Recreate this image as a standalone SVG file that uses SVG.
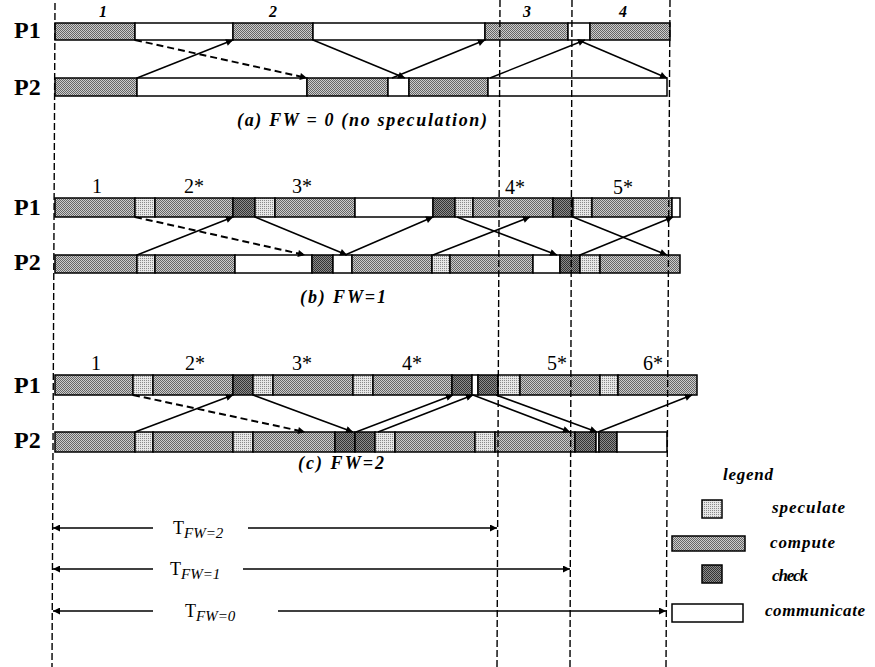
<svg xmlns="http://www.w3.org/2000/svg" width="875" height="667" viewBox="0 0 875 667">
<defs>
<pattern id="pc" width="2" height="2" patternUnits="userSpaceOnUse"><rect width="2" height="2" fill="#cccccc"/><rect width="1" height="1" fill="#666"/><rect x="1" y="1" width="1" height="1" fill="#666"/></pattern>
<pattern id="ps" width="2" height="2" patternUnits="userSpaceOnUse"><rect width="2" height="2" fill="#e6e6e6"/><rect width="1" height="1" fill="#8a8a8a"/></pattern>
<pattern id="pk" width="2" height="2" patternUnits="userSpaceOnUse"><rect width="2" height="2" fill="#8c8c8c"/><rect width="1" height="1" fill="#333"/><rect x="1" y="1" width="1" height="1" fill="#333"/></pattern>
<marker id="ah" viewBox="0 0 10 10" refX="10" refY="5" markerWidth="9" markerHeight="7" markerUnits="userSpaceOnUse" orient="auto"><path d="M0,0 L10,5 L0,10 z" fill="#000"/></marker>
</defs>
<style>
rect.c{fill:url(#pc);stroke:#000;stroke-width:1.5}
rect.s{fill:url(#ps);stroke:#000;stroke-width:1.5}
rect.k{fill:url(#pk);stroke:#000;stroke-width:1.5}
rect.m{fill:#fff;stroke:#000;stroke-width:1.5}
.vl{stroke:#000;stroke-width:1.4;stroke-dasharray:7 3;fill:none}
.ar{stroke:#000;stroke-width:1.5;fill:none;marker-end:url(#ah)}
.da{stroke:#000;stroke-width:2;stroke-dasharray:7 4;fill:none;marker-end:url(#ah)}
.pl{font-family:"Liberation Serif",serif;font-weight:bold;font-size:24px}
.na{font-family:"Liberation Serif",serif;font-weight:bold;font-style:italic;font-size:16px;text-anchor:middle}
.nb{font-family:"Liberation Serif",serif;font-size:20px;text-anchor:middle}
.cap{font-family:"Liberation Serif",serif;font-weight:bold;font-style:italic;font-size:18px}
.lg{font-family:"Liberation Serif",serif;font-style:italic;font-size:17px;font-weight:bold}
.tt{font-family:"Liberation Serif",serif;font-size:18px}
.sub{font-style:italic;font-size:15px}
</style>

<g id="panel-a">
<g id="a-P1">
<text class="pl" x="14" y="38">P1</text>
<rect class="c" x="55" y="23" width="80" height="17"/>
<rect class="m" x="135" y="23" width="98" height="17"/>
<rect class="c" x="233" y="23" width="80" height="17"/>
<rect class="m" x="313" y="23" width="172" height="17"/>
<rect class="c" x="485" y="23" width="83" height="17"/>
<rect class="m" x="568" y="23" width="22" height="17"/>
<rect class="c" x="590" y="23" width="80" height="17"/>
</g>
<g id="a-P2">
<text class="pl" x="14" y="95">P2</text>
<rect class="c" x="55" y="78" width="82" height="18"/>
<rect class="m" x="137" y="78" width="170" height="18"/>
<rect class="c" x="307" y="78" width="81" height="18"/>
<rect class="m" x="388" y="78" width="21" height="18"/>
<rect class="c" x="409" y="78" width="79" height="18"/>
<rect class="m" x="488" y="78" width="179" height="18"/>
</g>
<g id="a-labels">
<text class="na" x="103" y="17">1</text>
<text class="na" x="273" y="17">2</text>
<text class="na" x="527" y="17">3</text>
<text class="na" x="623" y="17">4</text>
<text class="cap" x="237" y="126" textLength="250" lengthAdjust="spacing">(a) FW = 0 (no speculation)</text>
</g>
</g>

<g id="panel-b">
<g id="b-P1">
<text class="pl" x="14" y="215">P1</text>
<rect class="c" x="55" y="198" width="80" height="19"/>
<rect class="s" x="135" y="198" width="20" height="19"/>
<rect class="c" x="155" y="198" width="78" height="19"/>
<rect class="k" x="233" y="198" width="22" height="19"/>
<rect class="s" x="255" y="198" width="20" height="19"/>
<rect class="c" x="275" y="198" width="80" height="19"/>
<rect class="m" x="355" y="198" width="78" height="19"/>
<rect class="k" x="433" y="198" width="22" height="19"/>
<rect class="s" x="455" y="198" width="18" height="19"/>
<rect class="c" x="473" y="198" width="80" height="19"/>
<rect class="k" x="553" y="198" width="20" height="19"/>
<rect class="s" x="573" y="198" width="19" height="19"/>
<rect class="c" x="592" y="198" width="80" height="19"/>
<rect class="m" x="672" y="198" width="8" height="19"/>
</g>
<g id="b-P2">
<text class="pl" x="14" y="270">P2</text>
<rect class="c" x="55" y="255" width="82" height="18"/>
<rect class="s" x="137" y="255" width="18" height="18"/>
<rect class="c" x="155" y="255" width="80" height="18"/>
<rect class="m" x="235" y="255" width="77" height="18"/>
<rect class="k" x="312" y="255" width="21" height="18"/>
<rect class="m" x="333" y="255" width="19" height="18"/>
<rect class="c" x="352" y="255" width="80" height="18"/>
<rect class="s" x="432" y="255" width="18" height="18"/>
<rect class="c" x="450" y="255" width="83" height="18"/>
<rect class="m" x="533" y="255" width="27" height="18"/>
<rect class="k" x="560" y="255" width="20" height="18"/>
<rect class="s" x="580" y="255" width="20" height="18"/>
<rect class="c" x="600" y="255" width="80" height="18"/>
</g>
<g id="b-labels">
<text class="nb" x="97" y="193">1</text>
<text class="nb" x="194" y="193">2*</text>
<text class="nb" x="302" y="193">3*</text>
<text class="nb" x="515" y="194">4*</text>
<text class="nb" x="623" y="194">5*</text>
<text class="cap" x="300" y="303" textLength="86" lengthAdjust="spacing">(b) FW=1</text>
</g>
</g>

<g id="panel-c">
<g id="c-P1">
<text class="pl" x="14" y="393">P1</text>
<rect class="c" x="55" y="375" width="78" height="20"/>
<rect class="s" x="133" y="375" width="20" height="20"/>
<rect class="c" x="153" y="375" width="80" height="20"/>
<rect class="k" x="233" y="375" width="20" height="20"/>
<rect class="s" x="253" y="375" width="20" height="20"/>
<rect class="c" x="273" y="375" width="80" height="20"/>
<rect class="s" x="353" y="375" width="20" height="20"/>
<rect class="c" x="373" y="375" width="79" height="20"/>
<rect class="k" x="452" y="375" width="20" height="20"/>
<rect class="m" x="472" y="375" width="6" height="20"/>
<rect class="k" x="478" y="375" width="20" height="20"/>
<rect class="s" x="498" y="375" width="22" height="20"/>
<rect class="c" x="520" y="375" width="80" height="20"/>
<rect class="s" x="600" y="375" width="18" height="20"/>
<rect class="c" x="618" y="375" width="79" height="20"/>
</g>
<g id="c-P2">
<text class="pl" x="14" y="448">P2</text>
<rect class="c" x="55" y="432" width="80" height="20"/>
<rect class="s" x="135" y="432" width="18" height="20"/>
<rect class="c" x="153" y="432" width="80" height="20"/>
<rect class="s" x="233" y="432" width="20" height="20"/>
<rect class="c" x="253" y="432" width="82" height="20"/>
<rect class="k" x="335" y="432" width="20" height="20"/>
<rect class="k" x="355" y="432" width="20" height="20"/>
<rect class="s" x="375" y="432" width="20" height="20"/>
<rect class="c" x="395" y="432" width="80" height="20"/>
<rect class="s" x="475" y="432" width="20" height="20"/>
<rect class="c" x="495" y="432" width="80" height="20"/>
<rect class="k" x="575" y="432" width="21" height="20"/>
<rect class="m" x="596" y="432" width="3" height="20"/>
<rect class="k" x="599" y="432" width="18" height="20"/>
<rect class="m" x="617" y="432" width="50" height="20"/>
</g>
<g id="c-labels">
<text class="nb" x="96" y="370">1</text>
<text class="nb" x="195" y="370">2*</text>
<text class="nb" x="302" y="370">3*</text>
<text class="nb" x="412" y="370">4*</text>
<text class="nb" x="557" y="370">5*</text>
<text class="nb" x="653" y="370">6*</text>
<text class="cap" x="298" y="469" textLength="86" lengthAdjust="spacing">(c) FW=2</text>
</g>
</g>

<g id="time-lines">
<line class="vl" x1="55" y1="3" x2="52" y2="667"/>
<line class="vl" x1="500" y1="0" x2="497" y2="667"/>
<line class="vl" x1="572" y1="0" x2="570" y2="667"/>
<line class="vl" x1="670" y1="0" x2="666" y2="667"/>
</g>

<g id="connectors">
<line class="da" x1="135" y1="40" x2="307" y2="78"/>
<line class="ar" x1="137" y1="78" x2="233" y2="40"/>
<line class="ar" x1="313" y1="40" x2="405" y2="78"/>
<line class="ar" x1="392" y1="78" x2="485" y2="40"/>
<line class="ar" x1="490" y1="78" x2="585" y2="40"/>
<line class="ar" x1="578" y1="40" x2="667" y2="78"/>

<line class="da" x1="135" y1="217" x2="305" y2="255"/>
<line class="ar" x1="137" y1="255" x2="233" y2="217"/>
<line class="ar" x1="255" y1="217" x2="347" y2="255"/>
<line class="ar" x1="345" y1="255" x2="433" y2="217"/>
<line class="ar" x1="457" y1="217" x2="557" y2="255"/>
<line class="ar" x1="433" y1="255" x2="530" y2="217"/>
<line class="ar" x1="573" y1="217" x2="667" y2="255"/>
<line class="ar" x1="580" y1="255" x2="673" y2="217"/>

<line class="da" x1="133" y1="395" x2="305" y2="432"/>
<line class="ar" x1="135" y1="432" x2="233" y2="395"/>
<line class="ar" x1="253" y1="395" x2="353" y2="432"/>
<line class="ar" x1="356" y1="432" x2="453" y2="395"/>
<line class="ar" x1="378" y1="432" x2="473" y2="395"/>
<line class="ar" x1="473" y1="395" x2="570" y2="432"/>
<line class="ar" x1="496" y1="395" x2="597" y2="432"/>
<line class="ar" x1="598" y1="432" x2="692" y2="395"/>

<line class="ar" x1="153" y1="528" x2="53" y2="528"/>
<line class="ar" x1="248" y1="528" x2="497" y2="528"/>
<line class="ar" x1="153" y1="569" x2="53" y2="569"/>
<line class="ar" x1="243" y1="569" x2="570" y2="569"/>
<line class="ar" x1="153" y1="611" x2="53" y2="611"/>
<line class="ar" x1="278" y1="611" x2="666" y2="611"/>
</g>

<g id="time-labels">
<text class="tt" x="173" y="534">T<tspan class="sub" dy="4">FW=2</tspan></text>
<text class="tt" x="170" y="575">T<tspan class="sub" dy="4">FW=1</tspan></text>
<text class="tt" x="185" y="617">T<tspan class="sub" dy="4">FW=0</tspan></text>
</g>

<g id="legend">
<text class="lg" x="723" y="480" textLength="50">legend</text>
<rect class="s" x="702" y="500" width="20" height="18"/>
<text class="lg" x="772" y="513" textLength="73">speculate</text>
<rect class="c" x="672" y="536" width="73" height="15"/>
<text class="lg" x="770" y="548" textLength="65">compute</text>
<rect class="k" x="702" y="565" width="20" height="18"/>
<text class="lg" x="772" y="581" textLength="36">check</text>
<rect class="m" x="672" y="604" width="71" height="18"/>
<text class="lg" x="765" y="616" textLength="100">communicate</text>
</g>
</svg>
